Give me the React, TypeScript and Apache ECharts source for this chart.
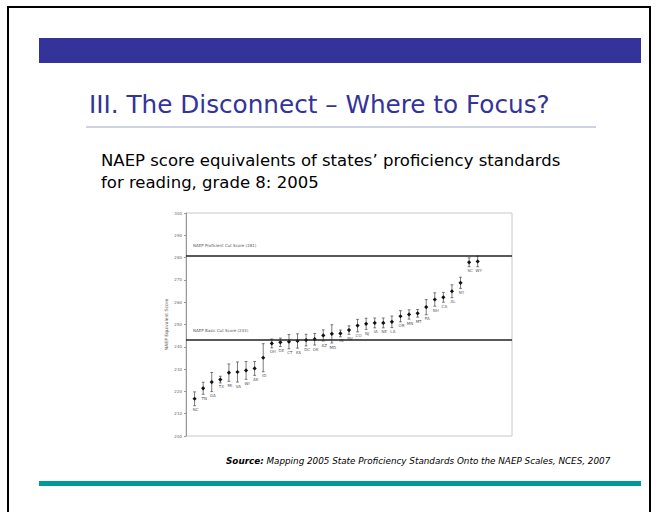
import React, { useEffect, useRef } from 'react';
import * as echarts from 'echarts';

// States ordered by NAEP score equivalent (grade 8 reading, 2005)
const states = ['NC', 'TN', 'GA', 'TX', 'MI', 'VA', 'WI', 'AK', 'ID', 'OH', 'DE', 'CT', 'KS', 'DC', 'OK', 'AZ', 'MD', 'IN', 'NV', 'CO', 'NJ', 'IA', 'NE', 'LA', 'OR', 'MN', 'MT', 'PA', 'NH', 'CA', 'AL', 'NY', 'SC', 'WY'];
const scores = [216.7, 221.4, 224.2, 225.3, 228.4, 228.7, 229.4, 230.3, 235.1, 241.5, 242.0, 242.3, 242.6, 243.0, 243.4, 245.1, 245.8, 246.0, 247.5, 249.5, 250.3, 250.7, 250.7, 251.2, 253.7, 254.5, 255.0, 257.8, 261.2, 262.2, 264.9, 268.7, 277.9, 278.3];
const errors = [3.1, 2.7, 4.3, 1.5, 3.9, 4.5, 4.0, 3.1, 6.3, 2.0, 1.9, 3.2, 3.2, 2.6, 2.6, 2.5, 4.1, 1.5, 1.9, 2.8, 2.5, 2.2, 2.2, 2.6, 2.5, 2.1, 1.7, 3.4, 3.0, 2.2, 2.9, 2.5, 2.0, 2.4];
const cutScores = [281, 243];
const cutLabels = ['NAEP Proficient Cut Score (281)', 'NAEP Basic Cut Score (243)'];
const yMin = 200;
const yMax = 300;
const yInterval = 10;

const titleText = 'III. The Disconnect \u2013 Where to Focus?';
const subtitleLines = ['NAEP score equivalents of states\u2019 proficiency standards', 'for reading, grade 8: 2005'];
const sourceText = 'Mapping 2005 State Proficiency Standards Onto the NAEP Scales, NCES, 2007';

export default function App() {
  const ref = useRef<HTMLDivElement>(null);
  useEffect(() => {
    const chart = echarts.init(ref.current!, null, { renderer: 'svg' });
    const data = scores.map((s, i) => [i + 1, s, s - errors[i], s + errors[i]]);
    chart.setOption({
      animation: false,
      backgroundColor: '#ffffff',
      textStyle: { fontFamily: 'DejaVu Sans' },
      grid: {
        left: 186, top: 213, width: 326, height: 223,
        show: true, borderColor: '#c8c8c8', borderWidth: 1, backgroundColor: 'transparent',
      },
      xAxis: { type: 'value', min: 0, max: 38, show: false },
      yAxis: {
        type: 'value', min: yMin, max: yMax, interval: yInterval,
        axisLine: { show: true, lineStyle: { color: '#999', width: 1 } },
        axisTick: { show: true, length: 2, lineStyle: { color: '#999' } },
        axisLabel: { fontSize: 4, color: '#666', margin: 4 },
        splitLine: { show: false },
        name: 'NAEP Equivalent Score', nameLocation: 'middle', nameGap: 17, nameRotate: 90,
        nameTextStyle: { fontSize: 4.5, color: '#555' },
      },
      series: [
        {
          type: 'custom',
          data,
          renderItem: (params: any, api: any) => {
            const x = api.value(0);
            const p = api.coord([x, api.value(1)]);
            const pl = api.coord([x, api.value(2)]);
            const ph = api.coord([x, api.value(3)]);
            const c = 1.4;
            const m = 2.1;
            const stroke = { stroke: '#444', lineWidth: 0.7 };
            return {
              type: 'group',
              children: [
                { type: 'line', shape: { x1: p[0], y1: ph[1], x2: p[0], y2: pl[1] }, style: stroke },
                { type: 'line', shape: { x1: p[0] - c, y1: ph[1], x2: p[0] + c, y2: ph[1] }, style: stroke },
                { type: 'line', shape: { x1: p[0] - c, y1: pl[1], x2: p[0] + c, y2: pl[1] }, style: stroke },
                { type: 'polygon', shape: { points: [[p[0], p[1] - m], [p[0] + m, p[1]], [p[0], p[1] + m], [p[0] - m, p[1]]] }, style: { fill: '#111' } },
                { type: 'text', style: { text: states[params.dataIndex], x: p[0] + 1, y: pl[1] + 2, fontSize: 4, fill: '#555', align: 'center', verticalAlign: 'top', fontFamily: 'DejaVu Sans' } },
              ],
            };
          },
          markLine: {
            silent: true,
            symbol: ['none', 'none'],
            lineStyle: { color: '#222', width: 1.6, type: 'solid' },
            data: cutScores.map((v, i) => ({
              yAxis: v,
              label: { show: true, formatter: cutLabels[i], position: 'insideStartTop', distance: [7, 8], fontSize: 4, color: '#555' },
            })),
          },
        },
      ],
      graphic: [
        { type: 'rect', shape: { x: 8, y: 7, width: 642, height: 520 }, style: { fill: 'none', stroke: '#000', lineWidth: 2 }, z: 10 },
        { type: 'rect', shape: { x: 39, y: 38, width: 602, height: 25 }, style: { fill: '#333399' } },
        { type: 'text', style: { text: titleText, x: 89, y: 104, fontSize: 24.7, fill: '#333399', fontFamily: 'DejaVu Sans', verticalAlign: 'middle' } },
        { type: 'line', shape: { x1: 86, y1: 127, x2: 596, y2: 127 }, style: { stroke: '#9ea6c8', lineWidth: 1 } },
        { type: 'text', style: { text: subtitleLines[0], x: 101, y: 160, fontSize: 16.5, fill: '#000', fontFamily: 'DejaVu Sans', verticalAlign: 'middle' } },
        { type: 'text', style: { text: subtitleLines[1], x: 101, y: 182, fontSize: 16.5, fill: '#000', fontFamily: 'DejaVu Sans', verticalAlign: 'middle' } },
        {
          type: 'text',
          style: {
            text: '{b|Source:} ' + sourceText, x: 226, y: 461, fontSize: 8.8, fill: '#000', fontStyle: 'italic', fontFamily: 'DejaVu Sans', verticalAlign: 'middle',
            rich: { b: { fontWeight: 'bold', fontStyle: 'italic', fontSize: 8.8, fontFamily: 'DejaVu Sans' } },
          },
        },
        { type: 'rect', shape: { x: 39, y: 481, width: 602, height: 5 }, style: { fill: '#009999' } },
      ],
    });
    return () => chart.dispose();
  }, []);
  return <div ref={ref} style={{ position: 'fixed', left: 0, top: 0, width: 657, height: 512, background: '#fff' }} />;
}
